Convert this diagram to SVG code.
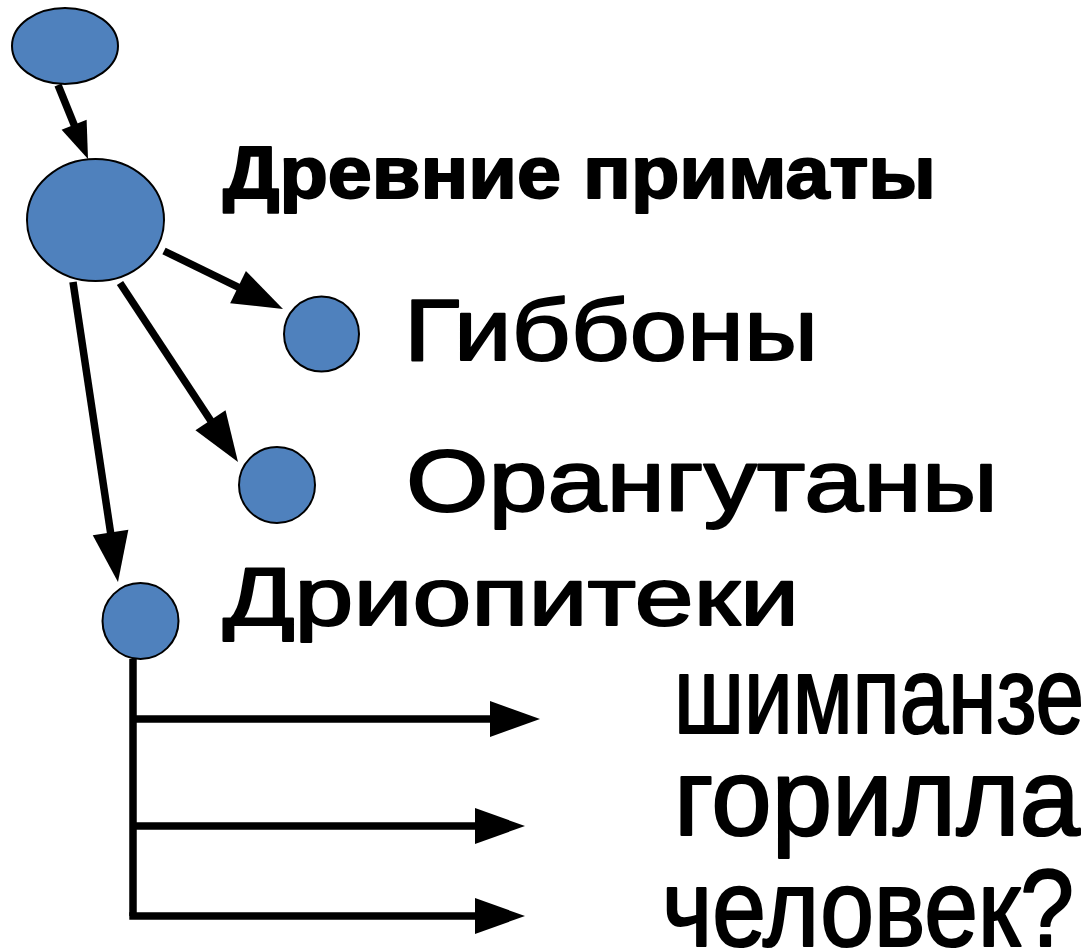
<svg xmlns="http://www.w3.org/2000/svg" width="1092" height="950" viewBox="0 0 1092 950">
<style>
.node{fill:#4F81BD;stroke:#000;stroke-width:2}
.edge{fill:none;stroke:#000;stroke-width:7.5}
.lbl{font-family:"Liberation Sans",Arial,sans-serif;fill:#000;stroke:#000;stroke-width:2;stroke-linejoin:round}
.big{stroke-width:2.2}
</style>
<defs>
<marker id="ah" markerUnits="userSpaceOnUse" markerWidth="50" markerHeight="36" refX="38" refY="18" orient="auto" overflow="visible"><path d="M0,0 L50,18 L0,36 z" fill="#000"/></marker>
<marker id="ahs" markerUnits="userSpaceOnUse" markerWidth="37" markerHeight="27" refX="25" refY="13.5" orient="auto" overflow="visible"><path d="M0,0 L37,13.5 L0,27 z" fill="#000"/></marker>
</defs>
<rect width="1092" height="950" fill="#fff"/>
<g id="connectors">
<line class="edge" x1="58" y1="85" x2="83.5" y2="147.9" marker-end="url(#ahs)"/>
<line class="edge" x1="164" y1="251" x2="272.2" y2="303.7" marker-end="url(#ah)"/>
<line class="edge" x1="120" y1="283" x2="231.4" y2="452" marker-end="url(#ah)"/>
<line class="edge" x1="73" y1="282" x2="116.2" y2="570.1" marker-end="url(#ah)"/>
<line class="edge" x1="133" y1="659" x2="133" y2="916"/>
<line class="edge" x1="133" y1="719" x2="528" y2="719" marker-end="url(#ah)"/>
<line class="edge" x1="133" y1="826" x2="513" y2="826" marker-end="url(#ah)"/>
<line class="edge" x1="129.3" y1="916" x2="513" y2="916" marker-end="url(#ah)"/>
</g>
<g id="root"><ellipse class="node" cx="65" cy="46" rx="53" ry="38"/></g>
<g id="ancient"><ellipse class="node" cx="95.5" cy="220" rx="68.5" ry="61"/>
<text class="lbl" x="223" y="198" font-size="74" font-weight="bold" stroke-width="0" textLength="713" lengthAdjust="spacingAndGlyphs">Древние приматы</text></g>
<g id="gibbons"><circle class="node" cx="321.5" cy="334" r="37.5"/>
<text class="lbl" x="404" y="360" font-size="88" textLength="414" lengthAdjust="spacingAndGlyphs">Гиббоны</text></g>
<g id="orangutans"><circle class="node" cx="277" cy="485" r="38"/>
<text class="lbl" x="406" y="511" font-size="88" textLength="592" lengthAdjust="spacingAndGlyphs">Орангутаны</text></g>
<g id="dryopithecus"><circle class="node" cx="140.5" cy="621" r="38"/>
<text class="lbl" x="223" y="625" font-size="81" textLength="576" lengthAdjust="spacingAndGlyphs">Дриопитеки</text></g>
<g id="descendants">
<text class="lbl big" x="674" y="733" font-size="110" textLength="410" lengthAdjust="spacingAndGlyphs">шимпанзе</text>
<text class="lbl big" x="674" y="835" font-size="110" textLength="406" lengthAdjust="spacingAndGlyphs">горилла</text>
<text class="lbl big" x="662" y="946" font-size="110" textLength="412" lengthAdjust="spacingAndGlyphs">человек?</text>
</g>
</svg>
